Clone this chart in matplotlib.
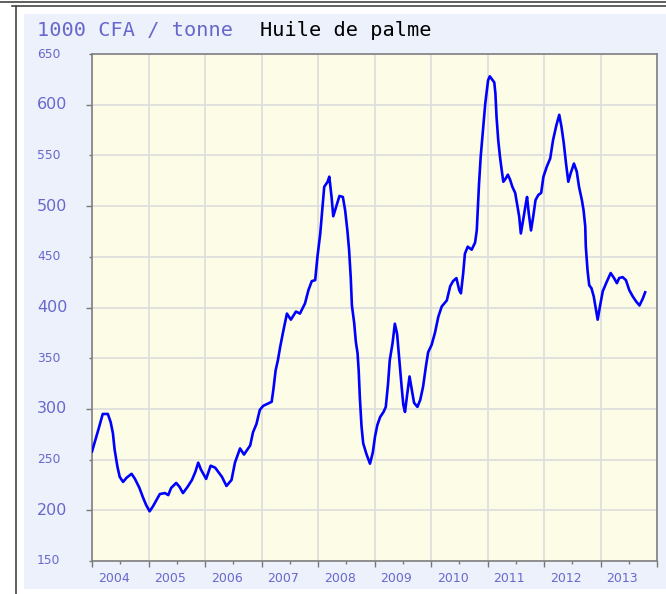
import matplotlib
matplotlib.use("Agg")
import matplotlib.pyplot as plt
from matplotlib.patches import Rectangle
from matplotlib.lines import Line2D
import numpy as np

# dates en années décimales, prix en 1000 CFA / tonne
dates = [
    2004.00, 2004.11, 2004.19, 2004.28, 2004.33, 2004.37, 2004.40, 2004.45, 2004.49, 2004.55,
    2004.61, 2004.70, 2004.76, 2004.84, 2004.90, 2004.96, 2005.02, 2005.08, 2005.14, 2005.20,
    2005.29, 2005.35, 2005.40, 2005.49, 2005.55, 2005.61, 2005.69, 2005.77, 2005.83, 2005.88,
    2005.93, 2006.02, 2006.10, 2006.18, 2006.30, 2006.38, 2006.47, 2006.53, 2006.62, 2006.69,
    2006.80, 2006.85, 2006.91, 2006.97, 2007.03, 2007.18, 2007.21, 2007.25, 2007.29, 2007.33,
    2007.39, 2007.45, 2007.52, 2007.61, 2007.68, 2007.77, 2007.83, 2007.89, 2007.95, 2007.99,
    2008.04, 2008.08, 2008.11, 2008.17, 2008.20, 2008.24, 2008.27, 2008.33, 2008.38, 2008.44,
    2008.48, 2008.52, 2008.55, 2008.58, 2008.60, 2008.64, 2008.67, 2008.70, 2008.72, 2008.74,
    2008.77, 2008.80, 2008.86, 2008.92, 2008.97, 2009.01, 2009.05, 2009.10, 2009.16, 2009.20,
    2009.24, 2009.27, 2009.32, 2009.36, 2009.40, 2009.44, 2009.48, 2009.51, 2009.54, 2009.58,
    2009.62, 2009.66, 2009.70, 2009.76, 2009.81, 2009.86, 2009.91, 2009.95, 2010.01, 2010.07,
    2010.13, 2010.19, 2010.28, 2010.34, 2010.39, 2010.45, 2010.50, 2010.53, 2010.57, 2010.60,
    2010.65, 2010.72, 2010.78, 2010.81, 2010.83, 2010.85, 2010.88, 2010.93, 2010.96, 2010.99,
    2011.01, 2011.04, 2011.08, 2011.12, 2011.14, 2011.16, 2011.19, 2011.22, 2011.25, 2011.28,
    2011.32, 2011.36, 2011.40, 2011.44, 2011.49, 2011.52, 2011.56, 2011.59, 2011.63, 2011.68,
    2011.70, 2011.73, 2011.77, 2011.81, 2011.85, 2011.90, 2011.95, 2011.99, 2012.05, 2012.11,
    2012.16, 2012.22, 2012.27, 2012.31, 2012.35, 2012.39, 2012.43, 2012.47, 2012.53, 2012.58,
    2012.62, 2012.67, 2012.70, 2012.73, 2012.74, 2012.77, 2012.80, 2012.84, 2012.88, 2012.92,
    2012.95, 2012.99, 2013.04, 2013.10, 2013.14, 2013.18, 2013.24, 2013.29, 2013.33, 2013.39,
    2013.45, 2013.51, 2013.57, 2013.63, 2013.69, 2013.75, 2013.79,
]
prix = [
    258, 279, 295, 295, 287, 276, 260, 243, 233, 228,
    232, 236, 231, 222, 213, 205, 199, 204, 210, 216,
    217, 215, 222, 227, 223, 217, 223, 230, 238, 247,
    240, 231, 244, 242, 233, 224, 230, 247, 261, 255,
    264, 277, 285, 299, 303, 307, 319, 338, 348, 361,
    378, 394, 388, 396, 394, 404, 417, 426, 427, 450,
    473, 499, 519, 524, 529, 509, 490, 501, 510, 509,
    496, 476, 457, 429, 402, 385, 366, 355, 338, 312,
    283, 266, 255, 246, 257, 273, 284, 292, 297, 302,
    325, 348, 365, 384, 374, 348, 322, 304, 297, 315,
    332, 319, 306, 302, 309, 322, 342, 356, 363, 375,
    391, 401, 407, 421, 426, 429, 417, 414, 434, 453,
    460, 457, 464, 476, 499, 522, 549, 582, 601, 615,
    624, 628, 625, 622, 611, 588, 565, 549, 536, 524,
    527, 531, 526, 519, 513, 503, 490, 473, 486, 503,
    509, 493, 476, 490, 506, 511, 513, 529, 539, 547,
    565, 580, 590, 578, 562, 542, 524, 532, 542, 534,
    519, 506, 496, 480, 460, 437, 422, 419, 411, 398,
    388, 401, 416, 424, 429, 434, 429, 424, 429, 430,
    427, 417, 411, 406, 402, 409, 415,
]
annees = list(range(2004, 2014))
y_ticks = [150, 200, 250, 300, 350, 400, 450, 500, 550, 600, 650]

W, H = 666, 594
bleu_txt = "#6868cc"

fig = plt.figure(figsize=(W / 100, H / 100), dpi=100)
fig.patch.set_facecolor("white")

# cadre de la page et panneau bleu clair
fig.add_artist(Line2D([0, 1], [1 - 1.5 / H, 1 - 1.5 / H], color="#444444", lw=1.2))
fig.add_artist(Line2D([12 / W, 1], [1 - 5.5 / H, 1 - 5.5 / H], color="#444444", lw=1.2))
fig.add_artist(Line2D([16 / W, 16 / W], [0, 1 - 5.5 / H], color="#444444", lw=1.2))
fig.add_artist(Rectangle((24 / W, 5 / H), 1, (589 - 14) / H, transform=fig.transFigure,
                         facecolor="#edf1fb", edgecolor="none", zorder=-1))

# titre
fig.text(37 / W, 1 - 31 / H, "1000 CFA / tonne", color=bleu_txt, fontsize=14.6,
         family="DejaVu Sans Mono", va="center", ha="left")
fig.text(260 / W, 1 - 31 / H, "Huile de palme", color="black", fontsize=14.6,
         family="DejaVu Sans Mono", va="center", ha="left")

ax = fig.add_axes([92 / W, (H - 561) / H, 565 / W, 507 / H])
ax.set_facecolor("#fdfde7")
ax.plot(dates, prix, color="#0000ff", lw=1.9, zorder=3)

ax.set_xlim(2004, 2014)
ax.set_ylim(150, 650)

ax.set_xticks(range(2004, 2015))
ax.set_xticks([a + 0.5 for a in range(2004, 2014)], minor=True)
ax.set_yticks([200, 300, 400, 500, 600])
ax.set_yticks([150, 250, 350, 450, 550, 650], minor=True)
ax.set_xticklabels([])
ax.set_yticklabels([])
ax.tick_params(which="major", length=4, width=1, color="#777777")
ax.tick_params(which="minor", length=2.2, width=1, color="#777777")

ax.grid(True, which="major", axis="x", color="#dedede", lw=1.3)
ax.grid(True, which="both", axis="y", color="#dedede", lw=1.3)
ax.set_axisbelow(True)
for s in ax.spines.values():
    s.set_color("#808080")
    s.set_linewidth(1.2)

# étiquettes des axes
for v in y_ticks:
    grand = (v % 100 == 0)
    ax.text((37 - 92) / 565, v, str(v), transform=ax.get_yaxis_transform(),
            ha="left", va="center", color=bleu_txt,
            fontsize=11.5 if grand else 8.8)
for a in annees:
    ax.text(a + 0.1, -18 / 507, str(a), transform=ax.get_xaxis_transform(),
            ha="left", va="center", color=bleu_txt, fontsize=9)

fig.savefig("out.png", dpi=100, facecolor=fig.get_facecolor())
